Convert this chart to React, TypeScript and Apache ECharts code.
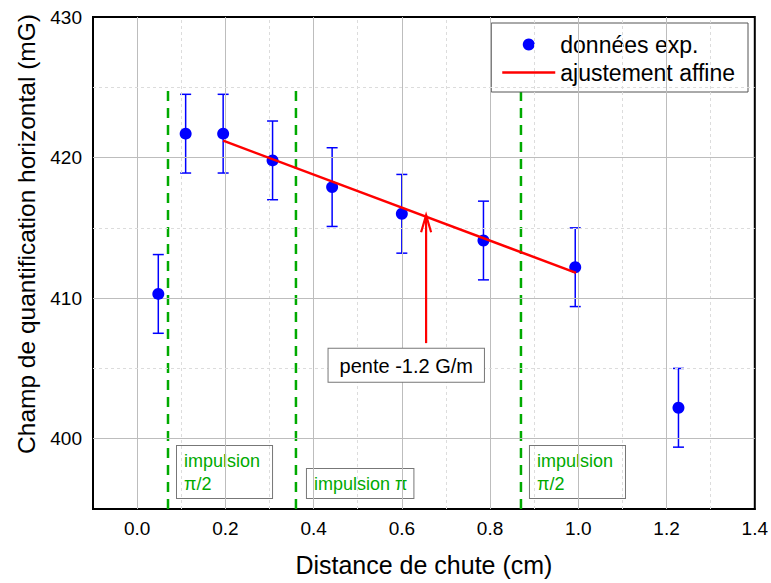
import React, { useEffect, useRef } from "react";
import * as echarts from "echarts";

const FONT = '"Liberation Sans", Arial, Helvetica, sans-serif';

// Experimental data
const distance = [0.048, 0.11, 0.195, 0.307, 0.442, 0.6, 0.785, 0.993, 1.227];
const champ = [410.3, 421.7, 421.7, 419.8, 417.9, 416.0, 414.1, 412.2, 402.2];
const erreur = [2.8, 2.8, 2.8, 2.8, 2.8, 2.8, 2.8, 2.8, 2.8];

// Linear fit
const fitX = [0.195, 0.995];
const fitY = [421.2, 411.8];

// Pulses
const impulsionX = [0.07, 0.36, 0.87];
const impulsionLabels = ["impulsion\nπ/2", "impulsion π", "impulsion\nπ/2"];
const impulsionYRange = [395, 425];

// Slope annotation
const penteLabel = "pente -1.2 G/m";
const penteArrow = [0.655, 406.8, 415.9]; // x, from y, to y
const penteBox = [0.61, 406.4]; // center x, top y

// Axes / grid
const xMajor = [0, 0.2, 0.4, 0.6, 0.8, 1.0, 1.2];
const xMinor = [0.1, 0.3, 0.5, 0.7, 0.9, 1.1, 1.3];
const yMajor = [400, 410, 420];
const yMinor = [405, 415, 425];

export default function App() {
  const ref = useRef<HTMLDivElement>(null);

  useEffect(() => {
    if (!ref.current) return;
    const chart = echarts.init(ref.current, null, { renderer: "svg" });

    const majorStyle = { color: "#bdbdbd", width: 1, type: "solid" as const };
    const minorStyle = { color: "#dcdcdc", width: 1, type: [3, 3] as any };

    const gridLines = [
      ...xMajor.map((v) => ({ xAxis: v, lineStyle: majorStyle })),
      ...xMinor.map((v) => ({ xAxis: v, lineStyle: minorStyle })),
      ...yMajor.map((v) => ({ yAxis: v, lineStyle: majorStyle })),
      ...yMinor.map((v) => ({ yAxis: v, lineStyle: minorStyle })),
    ];

    const option: any = {
      animation: false,
      textStyle: { fontFamily: FONT },
      grid: {
        left: 93,
        right: 16,
        top: 17,
        bottom: 74,
        show: true,
        borderColor: "#000",
        borderWidth: 2,
        backgroundColor: "transparent",
      },
      xAxis: {
        type: "value",
        min: -0.1,
        max: 1.4,
        interval: 0.1,
        axisLine: { show: true, onZero: false, lineStyle: { color: "#000", width: 2 } },
        axisTick: { show: false },
        splitLine: { show: false },
        axisLabel: {
          color: "#000",
          fontSize: 19,
          fontFamily: FONT,
          margin: 10,
          showMinLabel: true,
          showMaxLabel: true,
          formatter: (v: number) => {
            const k = Math.round(v * 10);
            return k >= 0 && k % 2 === 0 ? (k / 10).toFixed(1) : "";
          },
        },
        name: "Distance de chute (cm)",
        nameLocation: "middle",
        nameGap: 43,
        nameTextStyle: { fontSize: 25, color: "#000", fontFamily: FONT },
      },
      yAxis: {
        type: "value",
        min: 395,
        max: 430,
        interval: 5,
        axisLine: { show: true, onZero: false, lineStyle: { color: "#000", width: 2 } },
        axisTick: { show: false },
        splitLine: { show: false },
        axisLabel: {
          color: "#000",
          fontSize: 19,
          fontFamily: FONT,
          margin: 11,
          showMinLabel: true,
          showMaxLabel: true,
          formatter: (v: number) => (Math.round(v) % 10 === 0 ? String(Math.round(v)) : ""),
        },
        name: "Champ de quantification horizontal (mG)",
        nameLocation: "middle",
        nameGap: 53,
        nameTextStyle: { fontSize: 24.5, color: "#000", fontFamily: FONT, padding: [0, 0, 0, 58] },
      },
      legend: {
        orient: "vertical",
        right: 23,
        top: 23,
        align: "left",
        itemWidth: 53,
        itemHeight: 12,
        itemGap: 5,
        padding: [10, 13, 8, 11],
        borderColor: "#555",
        borderWidth: 1,
        borderRadius: 0,
        backgroundColor: "#fff",
        textStyle: { fontSize: 23, color: "#000", fontFamily: FONT },
        data: [
          { name: "données exp.", icon: "circle", itemStyle: { color: "#0000ff", opacity: 1 } },
          {
            name: "ajustement affine",
            icon: "path://M0,0H53V2.5H0Z",
            itemStyle: { color: "#ff0000" },
          },
        ],
      },
      series: [
        {
          type: "line",
          name: "grid",
          data: [],
          z: 1,
          silent: true,
          markLine: {
            silent: true,
            symbol: "none",
            label: { show: false },
            data: gridLines,
          },
        },
        {
          type: "custom",
          name: "impulsions",
          z: 3,
          silent: true,
          data: impulsionX.map((x, i) => [x, i]),
          renderItem: (params: any, api: any) => {
            const x = api.value(0);
            const idx = api.value(1);
            const p0 = api.coord([x, impulsionYRange[0]]);
            const p1 = api.coord([x, impulsionYRange[1]]);
            return {
              type: "group",
              children: [
                {
                  type: "line",
                  shape: { x1: p0[0], y1: p0[1], x2: p1[0], y2: p1[1] },
                  style: { stroke: "#00aa00", lineWidth: 2.5, lineDash: [10, 7] },
                },
                {
                  type: "text",
                  x: p0[0] + (idx === 1 ? 11 : 9),
                  y: p0[1] - 11,
                  style: {
                    text: impulsionLabels[idx],
                    fill: "#00aa00",
                    font: `18px ${FONT}`,
                    lineHeight: 23,
                    align: "left",
                    verticalAlign: "bottom",
                    backgroundColor: "#fff",
                    borderColor: "#777",
                    borderWidth: 1,
                    padding: idx === 1 ? [3, 6, 3, 7] : [3, 12, 3, 7],
                  },
                },
              ],
            };
          },
        },
        {
          type: "custom",
          name: "erreurs",
          z: 4,
          silent: true,
          data: distance.map((x, i) => [x, champ[i], erreur[i]]),
          renderItem: (params: any, api: any) => {
            const x = api.value(0);
            const y = api.value(1);
            const e = api.value(2);
            const top = api.coord([x, y + e]);
            const bot = api.coord([x, y - e]);
            const w = 5.5;
            const st = { stroke: "#0000ff", lineWidth: 1.5 };
            return {
              type: "group",
              children: [
                { type: "line", shape: { x1: top[0], y1: top[1], x2: bot[0], y2: bot[1] }, style: st },
                { type: "line", shape: { x1: top[0] - w, y1: top[1], x2: top[0] + w, y2: top[1] }, style: st },
                { type: "line", shape: { x1: bot[0] - w, y1: bot[1], x2: bot[0] + w, y2: bot[1] }, style: st },
              ],
            };
          },
        },
        {
          type: "scatter",
          name: "données exp.",
          z: 5,
          symbol: "circle",
          symbolSize: 12,
          itemStyle: { color: "#0000ff", opacity: 1 },
          data: distance.map((x, i) => [x, champ[i]]),
        },
        {
          type: "line",
          name: "ajustement affine",
          z: 6,
          showSymbol: false,
          symbol: "none",
          lineStyle: { color: "#ff0000", width: 2.5 },
          itemStyle: { color: "#ff0000" },
          data: fitX.map((x, i) => [x, fitY[i]]),
        },
        {
          type: "custom",
          name: "pente",
          z: 7,
          silent: true,
          data: [[penteArrow[0], penteArrow[1], penteArrow[2], penteBox[0], penteBox[1]]],
          renderItem: (params: any, api: any) => {
            const a0 = api.coord([api.value(0), api.value(1)]);
            const a1 = api.coord([api.value(0), api.value(2)]);
            const b = api.coord([api.value(3), api.value(4)]);
            const st = { stroke: "#ff0000", lineWidth: 2.2, fill: null };
            return {
              type: "group",
              children: [
                { type: "line", shape: { x1: a0[0], y1: a0[1], x2: a1[0], y2: a1[1] }, style: st },
                {
                  type: "polyline",
                  shape: {
                    points: [
                      [a1[0] - 5, a1[1] + 17],
                      [a1[0], a1[1]],
                      [a1[0] + 5, a1[1] + 17],
                    ],
                  },
                  style: st,
                },
                {
                  type: "text",
                  x: b[0],
                  y: b[1],
                  style: {
                    text: penteLabel,
                    fill: "#000",
                    font: `20px ${FONT}`,
                    align: "center",
                    verticalAlign: "top",
                    backgroundColor: "#fff",
                    borderColor: "#777",
                    borderWidth: 1,
                    padding: [7, 11, 6, 11],
                  },
                },
              ],
            };
          },
        },
      ],
    };

    chart.setOption(option);
    return () => chart.dispose();
  }, []);

  return <div ref={ref} style={{ width: 771, height: 583, position: "absolute", left: 0, top: 0 }} />;
}
